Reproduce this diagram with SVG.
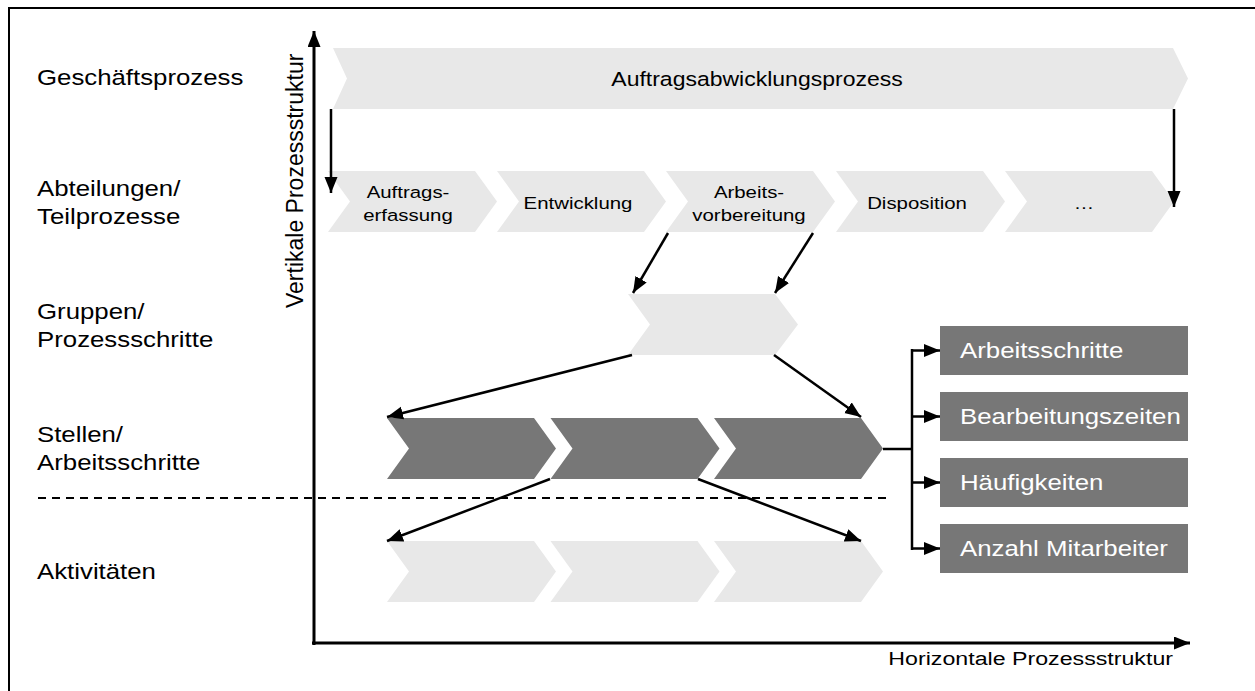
<svg xmlns="http://www.w3.org/2000/svg" width="1255" height="691" viewBox="0 0 1255 691">
  <defs>
    <marker id="head" markerUnits="userSpaceOnUse" markerWidth="18" markerHeight="14" refX="16" refY="6.5" orient="auto">
      <path d="M0,0 L16,6.5 L0,13 Z" fill="#000"/>
    </marker>
    <style>
      .txt { font-family: "Liberation Sans", Arial, sans-serif; fill: #000; }
      .lvl { font-size: 21.5px; }
      .main { font-size: 19.5px; }
      .sub { font-size: 17px; }
      .axis { font-size: 19px; }
      .vaxis { font-size: 23px; }
      .boxtxt { font-size: 21.5px; fill: #fff; }
      .light { fill: #e8e8e8; }
      .dark { fill: #777777; }
      .con { stroke: #000; stroke-width: 2.5; fill: none; }
      .arr { marker-end: url(#head); }
    </style>
  </defs>

  <rect width="1255" height="691" fill="#fff"/>
  <!-- outer frame -->
  <rect x="9" y="8" width="1270" height="720" fill="none" stroke="#000" stroke-width="2"/>

  <!-- level labels -->
  <g id="levels">
    <text class="txt lvl" transform="translate(37,85) scale(1.2,1)">Geschäftsprozess</text>
    <text class="txt lvl" transform="translate(37,196) scale(1.2,1)">Abteilungen/</text>
    <text class="txt lvl" transform="translate(37,224) scale(1.2,1)">Teilprozesse</text>
    <text class="txt lvl" transform="translate(37,319) scale(1.2,1)">Gruppen/</text>
    <text class="txt lvl" transform="translate(37,347) scale(1.2,1)">Prozessschritte</text>
    <text class="txt lvl" transform="translate(37,442) scale(1.2,1)">Stellen/</text>
    <text class="txt lvl" transform="translate(37,470) scale(1.2,1)">Arbeitsschritte</text>
    <text class="txt lvl" transform="translate(37,579) scale(1.2,1)">Aktivitäten</text>
  </g>

  <!-- axes -->
  <g id="axes">
    <line class="con arr" x1="314" y1="645" x2="314" y2="31" style="stroke-width:3"/>
    <line class="con arr" x1="312" y1="643" x2="1190" y2="643" style="stroke-width:3"/>
    <text class="txt vaxis" transform="translate(303,308) rotate(-90)">Vertikale Prozessstruktur</text>
    <text class="txt axis" text-anchor="end" transform="translate(1173,665) scale(1.22,1)">Horizontale Prozessstruktur</text>
  </g>

  <!-- separator between Stellen and Aktivitäten -->
  <line x1="38" y1="498" x2="887" y2="498" stroke="#000" stroke-width="2" stroke-dasharray="8,6"/>

  <!-- business process -->
  <g id="geschaeftsprozess">
    <path class="light" d="M333,48 H1173 L1188,78.5 L1173,109 H333 L347,78.5 Z"/>
    <text class="txt main" text-anchor="middle" transform="translate(757,86) scale(1.18,1)">Auftragsabwicklungsprozess</text>
  </g>

  <!-- sub-processes -->
  <g id="auftragserfassung">
    <path class="light" d="M328,171 H475 L497,201.5 L475,232 H328 L350,201.5 Z"/>
    <text class="txt sub" text-anchor="middle" transform="translate(408,198) scale(1.2,1)">Auftrags-</text>
    <text class="txt sub" text-anchor="middle" transform="translate(408,221) scale(1.2,1)">erfassung</text>
  </g>
  <g id="entwicklung">
    <path class="light" d="M497,171 H644 L666,201.5 L644,232 H497 L519,201.5 Z"/>
    <text class="txt sub" text-anchor="middle" transform="translate(578,209) scale(1.2,1)">Entwicklung</text>
  </g>
  <g id="arbeitsvorbereitung">
    <path class="light" d="M666,171 H813 L835,201.5 L813,232 H666 L688,201.5 Z"/>
    <text class="txt sub" text-anchor="middle" transform="translate(749,198) scale(1.2,1)">Arbeits-</text>
    <text class="txt sub" text-anchor="middle" transform="translate(749,221) scale(1.2,1)">vorbereitung</text>
  </g>
  <g id="disposition">
    <path class="light" d="M836,171 H983 L1005,201.5 L983,232 H836 L858,201.5 Z"/>
    <text class="txt sub" text-anchor="middle" transform="translate(917,209) scale(1.2,1)">Disposition</text>
  </g>
  <g id="weitere">
    <path class="light" d="M1005,171 H1152 L1174,201.5 L1152,232 H1005 L1027,201.5 Z"/>
    <text class="txt sub" text-anchor="middle" transform="translate(1084,209) scale(1.2,1)">…</text>
  </g>

  <!-- process step -->
  <g id="prozessschritt">
    <path class="light" d="M628,294 H775 L798,324.5 L775,355 H628 L650,324.5 Z"/>
  </g>

  <!-- work steps -->
  <g id="arbeitsschritt-1">
    <path class="dark" d="M387,418 H534 L556,448.5 L534,479 H387 L409,448.5 Z"/>
  </g>
  <g id="arbeitsschritt-2">
    <path class="dark" d="M550.5,418 H697.5 L719.5,448.5 L697.5,479 H550.5 L572.5,448.5 Z"/>
  </g>
  <g id="arbeitsschritt-3">
    <path class="dark" d="M714,418 H861 L883,448.5 L861,479 H714 L736,448.5 Z"/>
  </g>

  <!-- activities -->
  <g id="aktivitaet-1">
    <path class="light" d="M387,541 H534 L556,571.5 L534,602 H387 L409,571.5 Z"/>
  </g>
  <g id="aktivitaet-2">
    <path class="light" d="M550.5,541 H697.5 L719.5,571.5 L697.5,602 H550.5 L572.5,571.5 Z"/>
  </g>
  <g id="aktivitaet-3">
    <path class="light" d="M714,541 H861 L883,571.5 L861,602 H714 L736,571.5 Z"/>
  </g>

  <!-- measured attributes -->
  <g id="attr-arbeitsschritte">
    <rect class="dark" x="940" y="326" width="248" height="49"/>
    <text class="txt boxtxt" transform="translate(960,358) scale(1.2,1)">Arbeitsschritte</text>
  </g>
  <g id="attr-bearbeitungszeiten">
    <rect class="dark" x="940" y="392" width="248" height="49"/>
    <text class="txt boxtxt" transform="translate(960,424) scale(1.2,1)">Bearbeitungszeiten</text>
  </g>
  <g id="attr-haeufigkeiten">
    <rect class="dark" x="940" y="458" width="248" height="49"/>
    <text class="txt boxtxt" transform="translate(960,490) scale(1.2,1)">Häufigkeiten</text>
  </g>
  <g id="attr-mitarbeiter">
    <rect class="dark" x="940" y="524" width="248" height="49"/>
    <text class="txt boxtxt" transform="translate(960,556) scale(1.2,1)">Anzahl Mitarbeiter</text>
  </g>

  <!-- connectors -->
  <g id="connectors">
    <line class="con arr" x1="331" y1="109" x2="331" y2="193"/>
    <line class="con arr" x1="1174" y1="109" x2="1174" y2="207"/>
    <line class="con arr" x1="668" y1="233" x2="633" y2="293"/>
    <line class="con arr" x1="813" y1="233" x2="775" y2="293"/>
    <line class="con arr" x1="632" y1="355" x2="387" y2="417"/>
    <line class="con arr" x1="774" y1="355" x2="861" y2="417"/>
    <line class="con arr" x1="550" y1="479" x2="387" y2="541"/>
    <line class="con arr" x1="698" y1="479" x2="861" y2="541"/>
    <!-- bracket to attributes -->
    <line class="con" x1="883" y1="449" x2="912" y2="449"/>
    <line class="con" x1="912" y1="349" x2="912" y2="550"/>
    <line class="con arr" x1="911" y1="350.5" x2="940" y2="350.5"/>
    <line class="con arr" x1="911" y1="416.5" x2="940" y2="416.5"/>
    <line class="con arr" x1="911" y1="482.5" x2="940" y2="482.5"/>
    <line class="con arr" x1="911" y1="548.5" x2="940" y2="548.5"/>
  </g>
</svg>
